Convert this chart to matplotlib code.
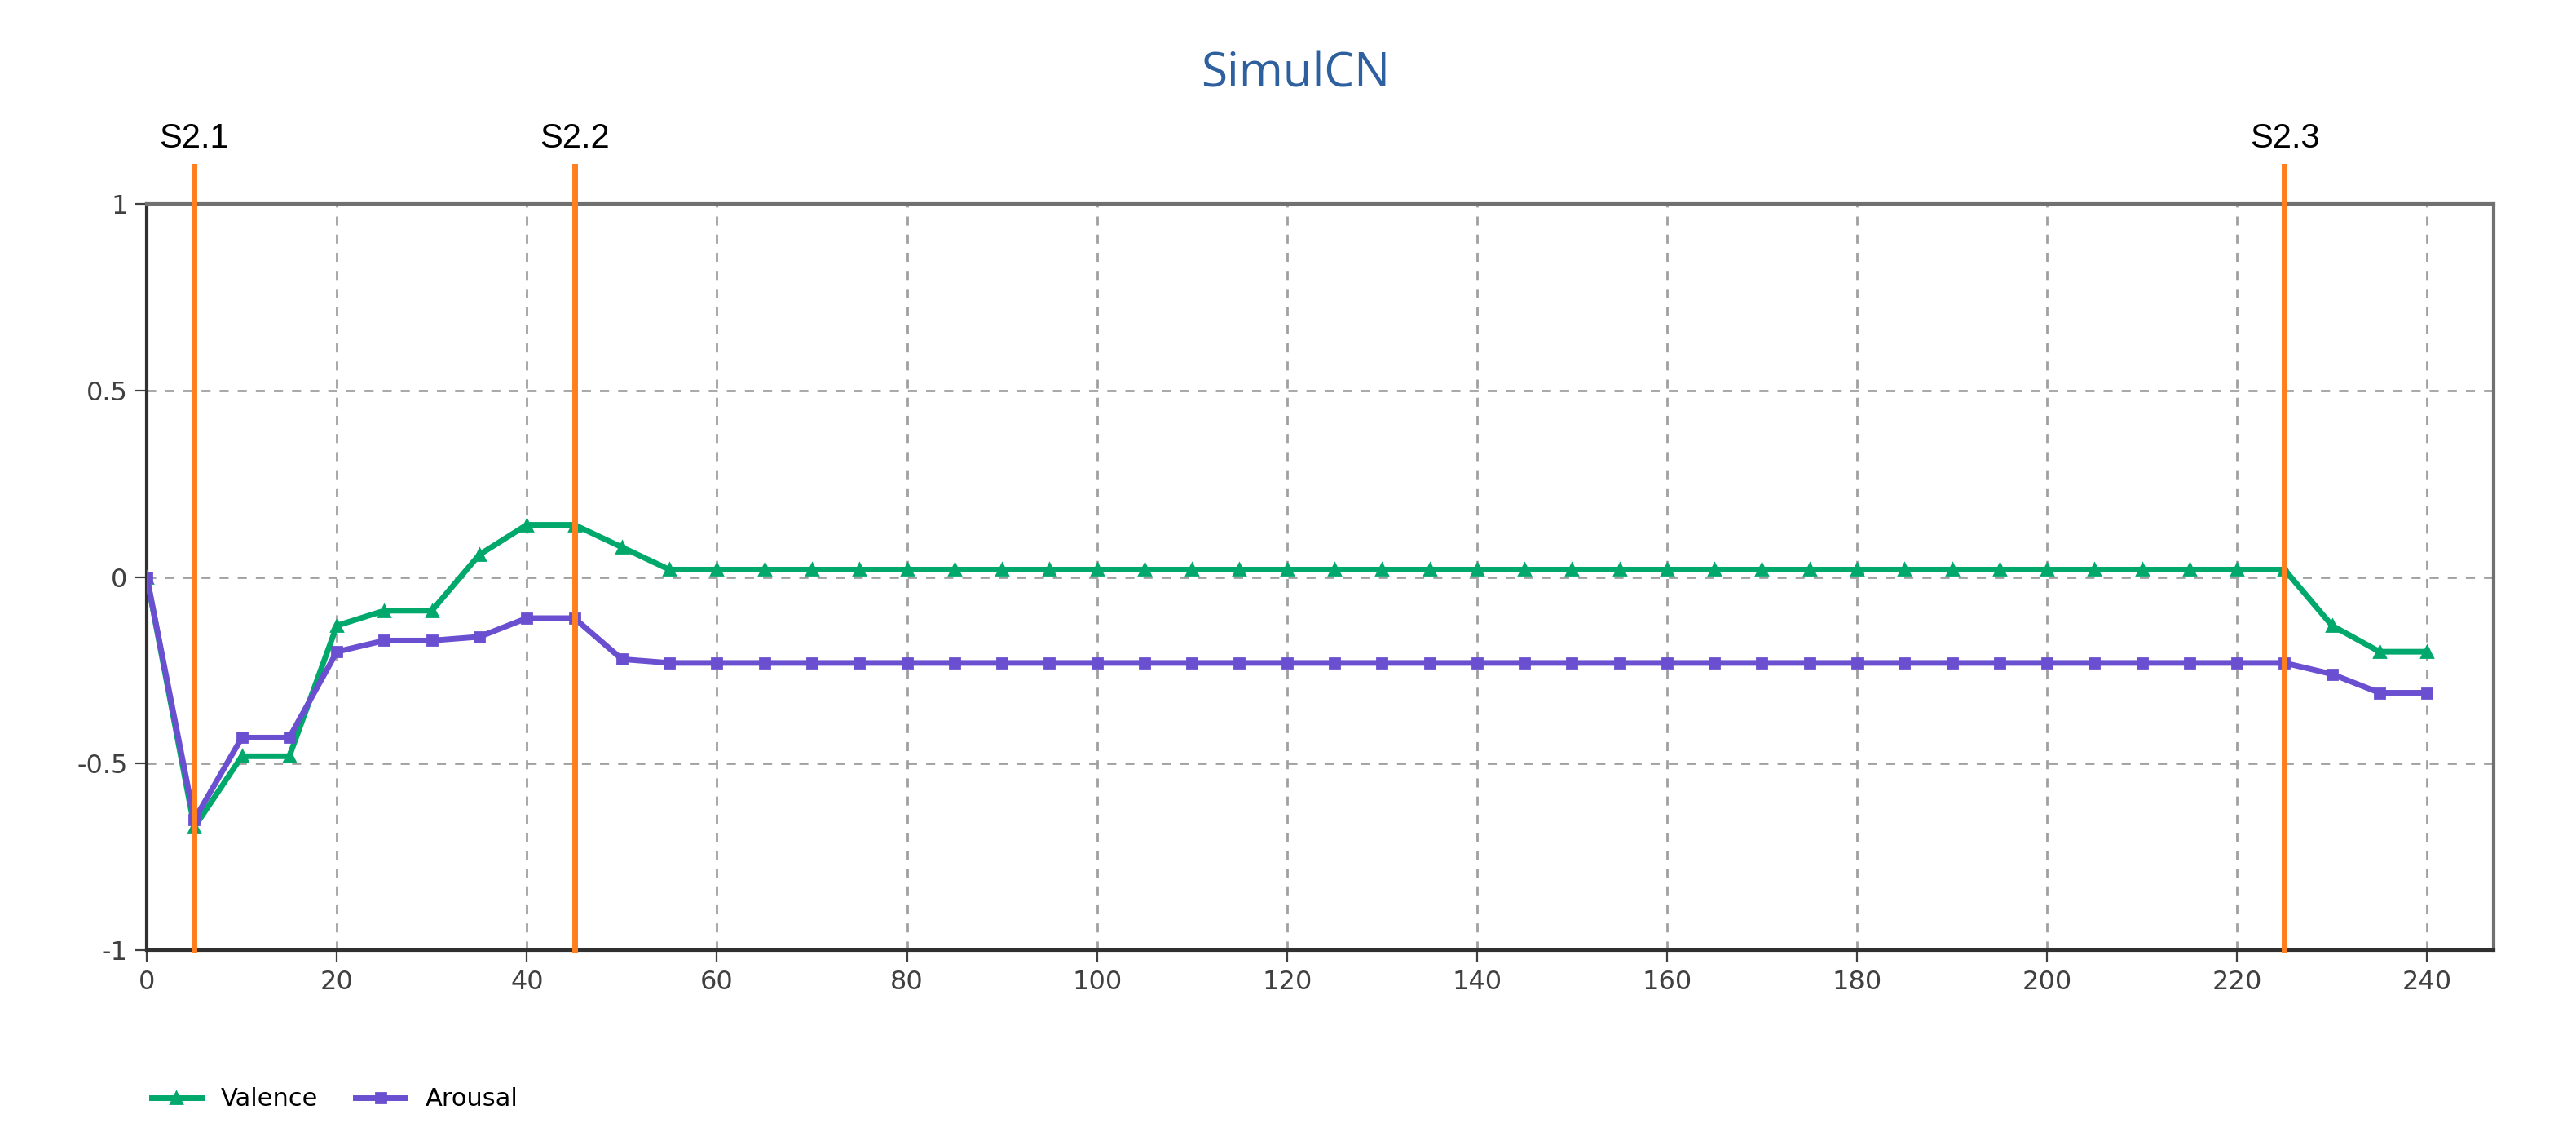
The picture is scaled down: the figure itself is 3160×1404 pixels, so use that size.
import matplotlib
matplotlib.use("Agg")
import matplotlib.pyplot as plt
from matplotlib.lines import Line2D

time = list(range(0, 245, 5))
valence = [0, -0.67, -0.48, -0.48, -0.13, -0.09, -0.09, 0.06, 0.14, 0.14, 0.08] + [0.02]*35 + [-0.13, -0.20, -0.20]
arousal = [0, -0.65, -0.43, -0.43, -0.20, -0.17, -0.17, -0.16, -0.11, -0.11, -0.22] + [-0.23]*35 + [-0.26, -0.31, -0.31]
events = [5, 45, 225]
event_labels = ["S2.1", "S2.2", "S2.3"]

fig = plt.figure(figsize=(15.8, 7.02), dpi=200)
ax = fig.add_axes([0.057, 0.170, 0.911, 0.652])
green = "#00a86b"; purple = "#6a4fd0"; orange = "#ff7f1e"
ax.plot(time, valence, color=green, lw=2.5, marker="^", ms=5, zorder=3)
ax.plot(time, arousal, color=purple, lw=2.5, marker="s", ms=4, zorder=3)
ax.set_xlim(0, 247)
ax.set_ylim(-1, 1)
ax.set_xticks(range(0, 241, 20))
ax.set_yticks([-1, -0.5, 0, 0.5, 1])
ax.set_yticklabels(["-1", "-0.5", "0", "0.5", "1"])
ax.grid(True, ls=(0, (4, 4)), color="#a0a0a0", lw=1)
ax.tick_params(labelsize=11.5, colors="#404040", length=5)
for s in ["left", "bottom", "right", "top"]:
    ax.spines[s].set_linewidth(1.5)
    ax.spines[s].set_color("#303030")
ax.spines["right"].set_color("#707070")
ax.spines["top"].set_color("#707070")
for x, lab in zip(events, event_labels):
    ax.axvline(x, ymin=0, ymax=1.05, color=orange, lw=2.5, clip_on=False, zorder=4)
    ax.text(x, 1.065, lab, ha="center", va="bottom", fontsize=15, family="Liberation Sans",
            transform=ax.get_xaxis_transform())
fig.text(0.503, 0.935, "SimulCN", ha="center", va="center", fontsize=21, color="#2e5f9e",
         family="Open Sans")
handles = [Line2D([], [], color=green, lw=2.5, marker="^", ms=5),
           Line2D([], [], color=purple, lw=2.5, marker="s", ms=4)]
fig.legend(handles, ["Valence", "Arousal"], loc="lower left", bbox_to_anchor=(0.05, 0.01),
           ncol=2, frameon=False, fontsize=11, handlelength=2, columnspacing=1.5)
fig.savefig("out.png", dpi=200, facecolor="white")
